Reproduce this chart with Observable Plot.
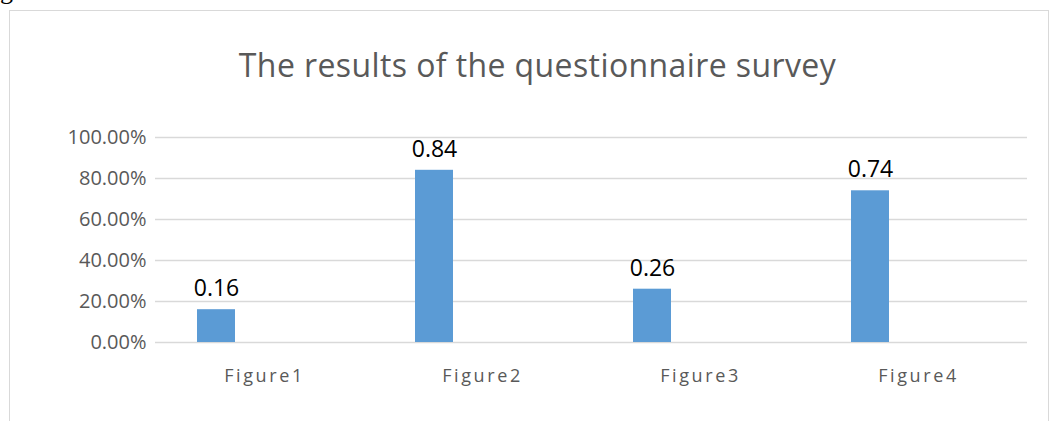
<!DOCTYPE html>
<html>
<head>
<meta charset="utf-8">
<script src="https://cdn.jsdelivr.net/npm/d3@7"></script>
<script src="https://cdn.jsdelivr.net/npm/@observablehq/plot@0.6"></script>
<style>
  html, body { margin: 0; padding: 0; background: #fff; }
  #page { position: relative; width: 1053px; height: 421px; overflow: hidden; background: #fff; }
  #frame { position: absolute; left: 9px; top: 10px; width: 1040px; height: 430px; border: 1.5px solid #d9d9d9; box-sizing: border-box; }
  #frag { position: absolute; left: 0px; top: -24px; font: 26px "Liberation Serif", serif; color: #000; }
  #title { position: absolute; left: 0; top: 43px; width: 1075px; text-align: center; font: 32px "Open Sans", sans-serif; color: #595959; letter-spacing: 0.4px; }
  #chart { position: absolute; left: 0; top: 110px; }
  #chart g[aria-label="x-axis tick label"] text { letter-spacing: 2.6px; }
</style>
</head>
<body>
<div id="page">
  <div id="frag">g</div>
  <div id="frame"></div>
  <div id="title">The results of the questionnaire survey</div>
  <div id="chart"></div>
</div>
<script>
const categories = ["Figure1", "Figure2", "Figure3", "Figure4"];
const values = [0.16, 0.84, 0.26, 0.74];
const valueLabels = ["0.16", "0.84", "0.26", "0.74"];
const yTicks = [0, 0.2, 0.4, 0.6, 0.8, 1.0];

const data = categories.map((c, i) => ({category: c, value: values[i], label: valueLabels[i]}));

const chart = Plot.plot({
  width: 1053,
  height: 292,
  marginLeft: 155,
  marginRight: 26,
  marginTop: 27,
  marginBottom: 60,
  style: {background: "transparent", overflow: "visible"},
  x: {domain: categories, padding: 0, label: null},
  y: {domain: [0, 1], label: null},
  marks: [
    Plot.ruleY(yTicks, {stroke: "#d9d9d9", strokeWidth: 1.6}),
    Plot.barY(data, {x: "category", y: "value", fill: "#5b9bd5", insetLeft: 42, insetRight: 138}),
    Plot.text(data, {x: "category", y: "value", text: "label", dx: -48, dy: -21, fill: "#000", fontSize: 23, fontFamily: "Open Sans"}),
    Plot.axisY({ticks: yTicks, tickFormat: d3.format(".2%"), tickSize: 0, tickPadding: 9, fontSize: 20, fontFamily: "Open Sans", fill: "#595959", label: null}),
    Plot.axisX({tickSize: 0, tickPadding: 27, fontSize: 18, fontFamily: "Open Sans", fill: "#595959", label: null})
  ]
});
document.getElementById("chart").appendChild(chart);
</script>
</body>
</html>
